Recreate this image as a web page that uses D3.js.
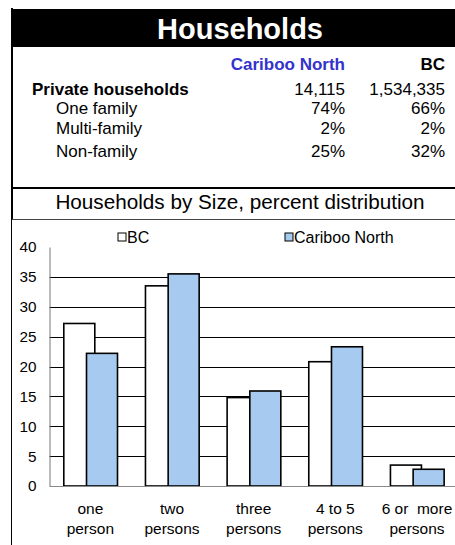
<!DOCTYPE html>
<html><head><meta charset="utf-8">
<script src="https://cdn.jsdelivr.net/npm/d3@7"></script>
<style>html,body{margin:0;padding:0;background:#fff;} text{font-family:"Liberation Sans",Arial,sans-serif;}</style>
</head><body><div id="c"></div>
<script>
const categories = [["one","person"],["two","persons"],["three","persons"],["4 to 5","persons"],["6 or  more","persons"]];
const seriesNames = ["BC","Cariboo North"];
const bcValues = [27.2, 33.5, 14.8, 20.8, 3.5];
const cnValues = [22.2, 35.5, 15.9, 23.3, 2.8];
const yTicks = [0,5,10,15,20,25,30,35,40];
const tableHeaders = ["Cariboo North","BC"];
const tableRows = [
  {label:"Private households", cn:"14,115", bc:"1,534,335", bold:true},
  {label:"One family", cn:"74%", bc:"66%"},
  {label:"Multi-family", cn:"2%", bc:"2%"},
  {label:"Non-family", cn:"25%", bc:"32%"}
];
const colors = {BC:"#ffffff","Cariboo North":"#a6caf0"};

const W=455,H=545;
const svg=d3.select("#c").append("svg").attr("width",W).attr("height",H);

// title bar
svg.append("rect").attr("x",12).attr("y",9).attr("width",W-12).attr("height",38).attr("fill","#000");
svg.append("text").attr("x",240).attr("y",38.5).attr("text-anchor","middle").attr("fill","#fff")
  .attr("font-size",29).attr("font-weight","bold").text("Households");
// box lines
svg.append("line").attr("x1",12).attr("x2",12).attr("y1",8).attr("y2",220).attr("stroke","#000").attr("stroke-width",2);
svg.append("line").attr("x1",11).attr("x2",W).attr("y1",188).attr("y2",188).attr("stroke","#000").attr("stroke-width",2);
svg.append("line").attr("x1",11).attr("x2",W).attr("y1",219.5).attr("y2",219.5).attr("stroke","#444").attr("stroke-width",1);
svg.append("line").attr("x1",11.5).attr("x2",11.5).attr("y1",219).attr("y2",H).attr("stroke","#000").attr("stroke-width",1);

// table
const colX=[345,445];
const fs=17;
svg.append("text").attr("x",colX[0]).attr("y",70).attr("text-anchor","end").attr("font-size",fs).attr("font-weight","bold").attr("fill","#3333cc").text(tableHeaders[0]);
svg.append("text").attr("x",colX[1]).attr("y",70).attr("text-anchor","end").attr("font-size",fs).attr("font-weight","bold").attr("fill","#000").text(tableHeaders[1]);
const rowY=[94.5,114,134,157];
tableRows.forEach((r,i)=>{
  svg.append("text").attr("x",r.bold?32:56).attr("y",rowY[i]).attr("font-size",fs).attr("font-weight",r.bold?"bold":"normal").text(r.label);
  svg.append("text").attr("x",colX[0]).attr("y",rowY[i]).attr("text-anchor","end").attr("font-size",fs).text(r.cn);
  svg.append("text").attr("x",colX[1]).attr("y",rowY[i]).attr("text-anchor","end").attr("font-size",fs).text(r.bc);
});

// subtitle
svg.append("text").attr("x",240).attr("y",208.5).attr("text-anchor","middle").attr("font-size",20.7).text("Households by Size, percent distribution");

// chart
const x0=49.5, pw=408.3;
const y=d3.scaleLinear().domain([0,40]).range([486,247]);
const x=d3.scaleBand().domain(d3.range(categories.length)).range([x0,x0+pw]).paddingInner(0).paddingOuter(0);
const g=svg.append("g");
// gridlines
g.selectAll("line.grid").data(yTicks.filter(t=>t>0&&t<40)).enter().append("line")
  .attr("x1",x0).attr("x2",W).attr("y1",d=>Math.round(y(d))+0.5).attr("y2",d=>Math.round(y(d))+0.5).attr("stroke","#000").attr("stroke-width",1);
// axis
const yAxis=d3.axisLeft(y).tickValues(yTicks).tickSize(0).tickPadding(13);
const ya=svg.append("g").attr("transform",`translate(${x0},0)`).call(yAxis);
ya.select(".domain").attr("stroke","#777");
ya.selectAll("text").attr("font-size",15.3).attr("fill","#000").attr("font-family","'Liberation Sans',Arial,sans-serif");
svg.append("line").attr("x1",x0).attr("x2",W).attr("y1",486.5).attr("y2",486.5).attr("stroke","#888");

const bw=31, off1=14.3, off2=37;
const series=[{name:"BC",vals:bcValues,off:off1},{name:"Cariboo North",vals:cnValues,off:off2}];
series.forEach(s=>{
  g.selectAll(null).data(s.vals).enter().append("rect")
    .attr("x",(d,i)=>x(i)+s.off).attr("y",d=>y(d)).attr("width",bw).attr("height",d=>y(0)-y(d))
    .attr("fill",colors[s.name]).attr("stroke","#000").attr("stroke-width",1.6);
});
// category labels
categories.forEach((c,i)=>{
  const cx=x(i)+x.bandwidth()/2;
  c.forEach((t,j)=>{
    svg.append("text").attr("x",cx).attr("y",514+j*20).attr("text-anchor","middle").attr("font-size",15.5).style("white-space","pre").text(t);
  });
});
// legend
const legX=[118,285];
seriesNames.forEach((n,i)=>{
  svg.append("rect").attr("x",legX[i]).attr("y",233).attr("width",8).attr("height",8).attr("fill",colors[n]).attr("stroke","#000").attr("stroke-width",1);
  svg.append("text").attr("x",legX[i]+9).attr("y",242.5).attr("font-size",16).text(n);
});
</script></body></html>
